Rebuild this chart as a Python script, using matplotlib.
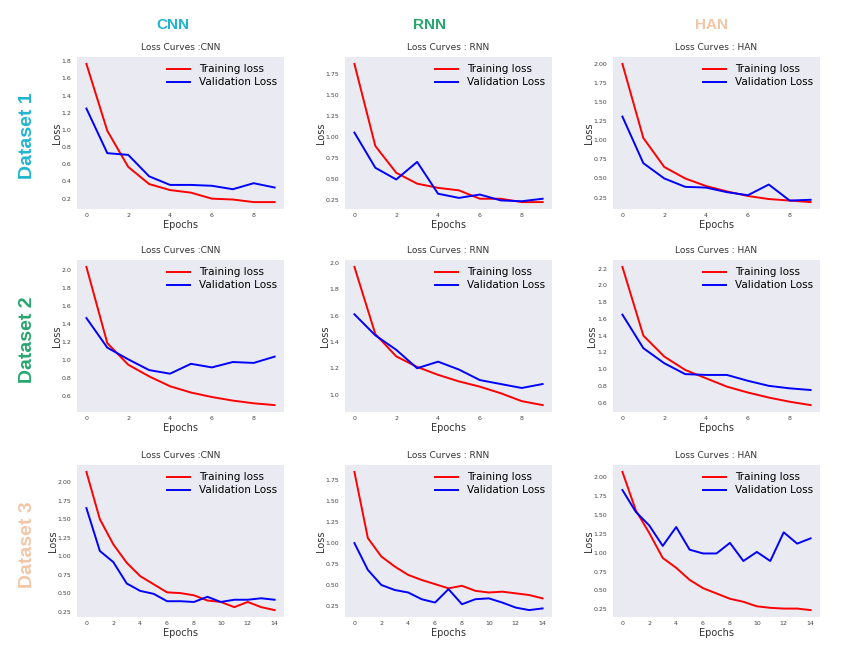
import matplotlib.pyplot as plt
from matplotlib.ticker import MultipleLocator

models = ['CNN', 'RNN', 'HAN']
datasets = ['Dataset 1', 'Dataset 2', 'Dataset 3']
model_colors = ['#1fb5d0', '#27a66e', '#f3c6a6']
dataset_colors = ['#1fb5d0', '#27a66e', '#f3c6a6']
titles = ['Loss Curves :CNN', 'Loss Curves : RNN', 'Loss Curves : HAN']

# dataset 1 (10 epochs)
d1_cnn_train = [1.77, 0.99, 0.57, 0.37, 0.30, 0.27, 0.20, 0.19, 0.16, 0.16]
d1_cnn_val = [1.25, 0.73, 0.71, 0.46, 0.36, 0.36, 0.35, 0.31, 0.38, 0.33]
d1_rnn_train = [1.87, 0.89, 0.57, 0.44, 0.39, 0.36, 0.26, 0.26, 0.22, 0.22]
d1_rnn_val = [1.05, 0.63, 0.49, 0.70, 0.32, 0.27, 0.31, 0.24, 0.23, 0.26]
d1_han_train = [2.00, 1.03, 0.65, 0.50, 0.40, 0.33, 0.27, 0.23, 0.21, 0.19]
d1_han_val = [1.31, 0.70, 0.50, 0.39, 0.38, 0.32, 0.28, 0.42, 0.21, 0.22]

# dataset 2 (10 epochs)
d2_cnn_train = [2.04, 1.19, 0.95, 0.82, 0.71, 0.64, 0.59, 0.55, 0.52, 0.50]
d2_cnn_val = [1.47, 1.14, 1.01, 0.89, 0.85, 0.96, 0.92, 0.98, 0.97, 1.04]
d2_rnn_train = [1.97, 1.46, 1.29, 1.21, 1.15, 1.10, 1.06, 1.01, 0.95, 0.92]
d2_rnn_val = [1.61, 1.45, 1.34, 1.20, 1.25, 1.19, 1.11, 1.08, 1.05, 1.08]
d2_han_train = [2.22, 1.40, 1.15, 0.99, 0.89, 0.79, 0.72, 0.66, 0.61, 0.57]
d2_han_val = [1.65, 1.25, 1.07, 0.94, 0.93, 0.93, 0.86, 0.80, 0.77, 0.75]

# dataset 3 (15 epochs)
d3_cnn_train = [2.14, 1.50, 1.16, 0.91, 0.73, 0.62, 0.51, 0.50, 0.47, 0.40,
                0.38, 0.31, 0.38, 0.31, 0.27]
d3_cnn_val = [1.65, 1.07, 0.92, 0.63, 0.53, 0.49, 0.39, 0.39, 0.38, 0.45,
              0.38, 0.41, 0.41, 0.43, 0.41]
d3_rnn_train = [1.85, 1.06, 0.84, 0.72, 0.62, 0.56, 0.51, 0.46, 0.49, 0.43,
                0.41, 0.42, 0.40, 0.38, 0.34]
d3_rnn_val = [1.00, 0.68, 0.50, 0.44, 0.41, 0.33, 0.29, 0.45, 0.27, 0.33,
              0.34, 0.29, 0.23, 0.20, 0.22]
d3_han_train = [2.07, 1.56, 1.26, 0.93, 0.80, 0.64, 0.53, 0.46, 0.39, 0.35,
                0.29, 0.27, 0.26, 0.26, 0.24]
d3_han_val = [1.83, 1.54, 1.36, 1.09, 1.34, 1.04, 0.99, 0.99, 1.13, 0.89,
              1.01, 0.89, 1.27, 1.12, 1.19]

train = [[d1_cnn_train, d1_rnn_train, d1_han_train],
         [d2_cnn_train, d2_rnn_train, d2_han_train],
         [d3_cnn_train, d3_rnn_train, d3_han_train]]
val = [[d1_cnn_val, d1_rnn_val, d1_han_val],
       [d2_cnn_val, d2_rnn_val, d2_han_val],
       [d3_cnn_val, d3_rnn_val, d3_han_val]]
ystep = [[0.2, 0.25, 0.25], [0.2, 0.2, 0.2], [0.25, 0.25, 0.25]]

W, H = 841, 649
fig = plt.figure(figsize=(W / 100, H / 100), dpi=100)

lefts = [77, 345, 613]
tops = [57, 260, 465]
aw, ah = 207, 152

for i in range(3):
    for j in range(3):
        ax = fig.add_axes([lefts[j] / W, (H - tops[i] - ah) / H, aw / W, ah / H])
        ax.set_facecolor('#eaeaf2')
        for s in ax.spines.values():
            s.set_visible(False)
        ep = list(range(len(train[i][j])))
        ax.plot(ep, train[i][j], color='red', lw=1.4, label='Training loss')
        ax.plot(ep, val[i][j], color='blue', lw=1.4, label='Validation Loss')
        ax.xaxis.set_major_locator(MultipleLocator(2))
        ax.yaxis.set_major_locator(MultipleLocator(ystep[i][j]))
        ax.tick_params(axis='y', length=0, labelsize=4.5, labelcolor='#444444', pad=4)
        ax.tick_params(axis='x', length=0, labelsize=4.5, labelcolor='#444444', pad=3)
        ax.set_title(titles[j], fontsize=6.5, color='#333333', pad=5)
        ax.set_xlabel('Epochs', fontsize=7, color='#333333', labelpad=1)
        ax.set_ylabel('Loss', fontsize=7, color='#333333', labelpad=0)
        ax.legend(loc='upper right', frameon=False, fontsize=7.5,
                  handlelength=2.2, borderaxespad=0.3, labelspacing=0.3)

header_x = [173, 429, 712]
for j in range(3):
    fig.text(header_x[j] / W, 1 - 25 / H, models[j], ha='center', va='center',
             fontsize=11, fontweight='bold', color=model_colors[j],
             family='Liberation Sans')

row_y = [136, 340, 545]
for i in range(3):
    fig.text(28 / W, 1 - row_y[i] / H, datasets[i], ha='center', va='center',
             rotation=90, fontsize=14, fontweight='bold',
             color=dataset_colors[i], family='Liberation Sans')

fig.savefig('out.png', dpi=100)
